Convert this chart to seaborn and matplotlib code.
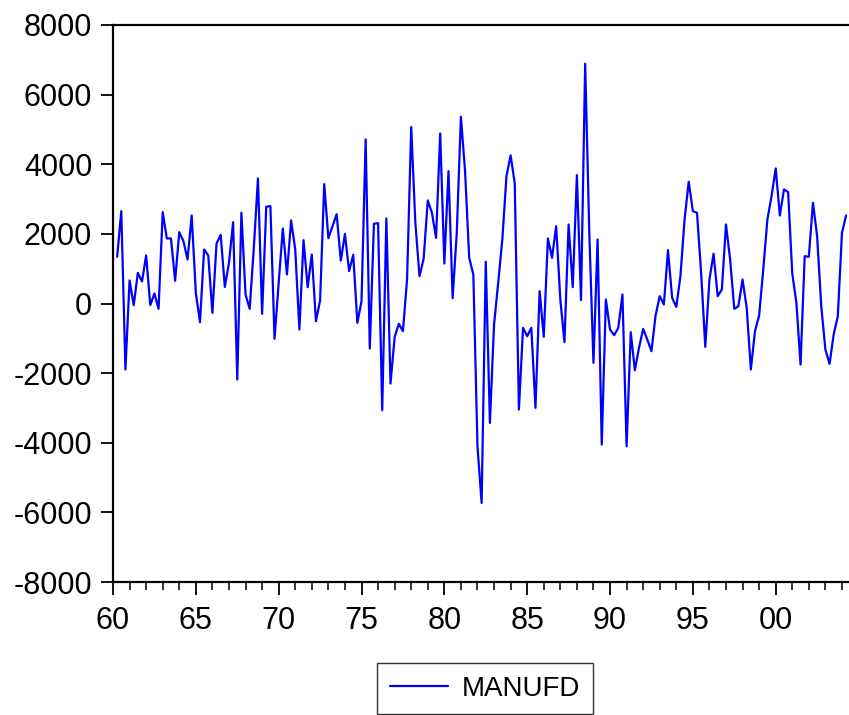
import numpy as np
import pandas as pd
import matplotlib
matplotlib.use("Agg")
import matplotlib.pyplot as plt
import seaborn as sns

# Quarterly series, 1960Q2 .. 2004Q2 (quarter index 1 = 1960Q2)
series_name = "MANUFD"
start_year = 1960
start_quarter_index = 1
manufd = [
    1342, 2653, -1897, 661, -48, 881, 632, 1379, -48, 287,
    -153, 2625, 1868, 1868, 651, 2050, 1791, 1265, 2529, 306,
    -536, 1552, 1379, -268, 1724, 1970, 475, 1169, 2337, -2184,
    2606, 259, -153, 1600, 3592, -297, 2778, 2798, -1015, 594,
    2155, 833, 2385, 1552, -747, 1820, 469, 1408, -508, 86,
    3430, 1877, 2222, 2567, 1230, 2000, 930, 1399, -556, 67,
    4713, -1293, 2290, 2309, -3066, 2443, -2299, -967, -585, -795,
    690, 5068, 2318, 785, 1284, 2960, 2606, 1887, 4886, 1150,
    3803, 153, 2031, 5365, 3800, 1313, 833, -4101, -5728, 1198,
    -3429, -604, 594, 1839, 3659, 4254, 3449, -3046, -699, -939,
    -699, -2998, 354, -958, 1868, 1313, 2222, 115, -1111, 2270,
    469, 3688, 96, 6889, 2031, -1705, 1839, -4052, 115, -747,
    -910, -699, 259, -4101, -824, -1916, -1274, -728, -1035, -1370,
    -345, 211, -29, 1533, 163, -96, 785, 2414, 3497, 2653,
    2606, 881, -1245, 690, 1428, 211, 402, 2270, 1265, -153,
    -77, 690, -125, -1897, -795, -345, 977, 2414, 3084, 3880,
    2529, 3276, 3200, 862, 19, -1753, 1360, 1341, 2893, 1935,
    -77, -1322, -1734, -891, -364, 2031, 2529,
]
x_tick_labels = ["60", "65", "70", "75", "80", "85", "90", "95", "00"]
y_ticks = [-8000, -6000, -4000, -2000, 0, 2000, 4000, 6000, 8000]

quarter = np.arange(start_quarter_index, start_quarter_index + len(manufd))
df = pd.DataFrame({"quarter": quarter, series_name: manufd})

sns.set_theme(style="ticks")
plt.rcParams["font.family"] = ["Liberation Sans", "DejaVu Sans"]
plt.rcParams["text.color"] = "black"

W, H = 849, 715
fig = plt.figure(figsize=(W / 100, H / 100), dpi=100)
ax = fig.add_axes([113 / W, 1 - 582 / H, (849 - 113) / W, (582 - 25) / H])

sns.lineplot(data=df, x="quarter", y=series_name, color="#0000ff",
             linewidth=1.6, ax=ax, legend=False)

ax.set_xlim(0, 177.7)
ax.set_ylim(-8000, 8000)
ax.set_xticks(np.arange(0, 20 * len(x_tick_labels), 20))
ax.set_xticklabels(x_tick_labels)
ax.set_xticks(np.arange(0, 178, 4), minor=True)
ax.set_yticks(y_ticks)
ax.set_yticklabels([str(v) for v in y_ticks])
ax.set_xlabel("")
ax.set_ylabel("")

for side in ["left", "bottom", "top"]:
    ax.spines[side].set_visible(True)
    ax.spines[side].set_color("black")
    ax.spines[side].set_linewidth(1.6)
ax.spines["right"].set_visible(False)

ax.tick_params(axis="both", which="major", direction="out", length=9,
               width=1.3, color="black", labelsize=22, labelcolor="black")
ax.tick_params(axis="y", pad=6)
ax.tick_params(axis="x", pad=8)
ax.tick_params(axis="x", which="minor", direction="out", length=6,
               width=1.1, color="black")
ax.tick_params(axis="y", which="minor", left=False)
ax.grid(False)

handle = ax.get_lines()[0]
leg = fig.legend([handle], [series_name], loc="upper center",
                 bbox_to_anchor=(485 / W, 1 - 663 / H), frameon=True,
                 fancybox=False, fontsize=20, handlelength=2.1,
                 borderpad=0.45, handletextpad=0.5, borderaxespad=0,
                 labelcolor="black")
leg.get_frame().set_edgecolor("black")
leg.get_frame().set_linewidth(1.0)

fig.savefig("out.png", dpi=100, facecolor="white")
